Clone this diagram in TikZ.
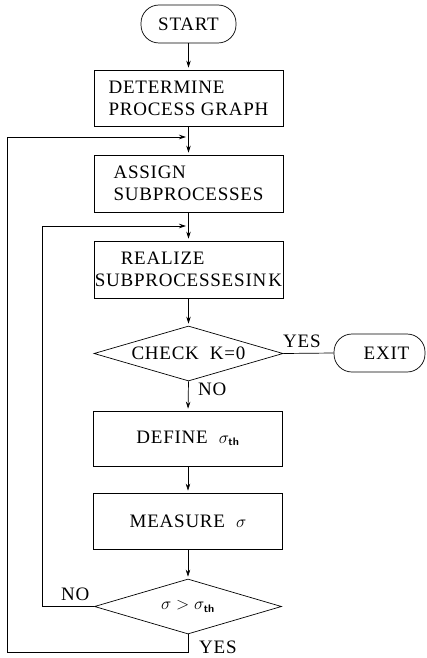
\documentclass[tikz,border=0pt]{standalone}
\usepackage{fontspec}
\setmainfont{Liberation Serif}[LetterSpace=4]
\usetikzlibrary{arrows.meta,shapes.geometric}
\tikzset{
  every node/.style={font=\fontsize{19}{22}\selectfont},
  box/.style={draw, line width=0.7pt, minimum width=189pt, minimum height=56pt, inner sep=0pt, align=left},
  term/.style={draw, line width=0.7pt, rounded corners=18pt, minimum height=38pt, inner sep=0pt},
  dec/.style={draw, line width=0.7pt, shape=diamond, aspect=3.4, inner sep=0pt, minimum width=189pt, minimum height=55pt},
  lbl/.style={inner sep=0pt, anchor=base west},
  conn/.style={line width=0.7pt},
  arr/.style={line width=0.7pt, -{Stealth[length=7pt,width=4.5pt]}, shorten >=2pt},
}
\newcommand{\sth}{\sigma_{\mbox{\fontsize{11}{11}\sffamily\bfseries th}}}
\begin{document}
\begin{tikzpicture}[x=1pt,y=-1pt]
\useasboundingbox (0,0) rectangle (426,658);
\node[term, minimum width=95pt] (start) at (188.5,24) {START};
\node[box] (det) at (188.5,98) {DETERMINE\\PROCESS GRAPH};
\node[box, minimum height=57pt] (ass) at (188.5,183.5) {ASSIGN\\SUBPROCESSES};
\node[box, minimum height=57pt] (rea) at (188.5,269.5) {\hspace*{26pt}REALIZE\\SUBPROCESSES\hspace{1pt}IN\hspace{2pt}K};
\node[dec] (d1) at (188.5,353.5) {CHECK\ \ K=0};
\node[term, minimum width=91pt] (exit) at (379.5,353) {\hspace*{14pt}EXIT};
\node[box, minimum height=55pt] (def) at (188,438.5) {DEFINE\ \ $\sth$};
\node[box] (mea) at (188,521) {MEASURE\ \ $\sigma$};
\node[dec, minimum width=187pt] (d2) at (188,606.5) {$\sigma>\sth$};

\node[lbl] (yes1) at (283,347) {YES};
\node[lbl] (no1) at (198,395) {NO};
\node[lbl] (no2) at (61,600) {NO};
\node[lbl] (yes2) at (199,653) {YES};

\coordinate (m1) at (188,137);
\coordinate (m2) at (188,226);
\coordinate (yb) at (188,652);
\coordinate (lb) at (7,652);
\coordinate (lt) at (7,137);
\coordinate (l2t) at (42,226);

\draw[arr] (start.south) -- (det.north);
\draw[arr] (det.south) -- (ass.north);
\draw[arr] (ass.south) -- (rea.north);
\draw[arr] (rea.south) -- (d1.north);
\draw[arr] (d1.south) -- (def.north);
\draw[arr] (def.south) -- (mea.north);
\draw[arr] (mea.south) -- (d2.north);
\draw[conn] (d1.east) -- (exit.west);
\draw[conn] (d2.south) -- (yb) -- (lb) -- (lt);
\draw[arr] (lt) -- (m1);
\draw[conn] (d2.west) -| (l2t);
\draw[arr] (l2t) -- (m2);
\end{tikzpicture}
\end{document}
